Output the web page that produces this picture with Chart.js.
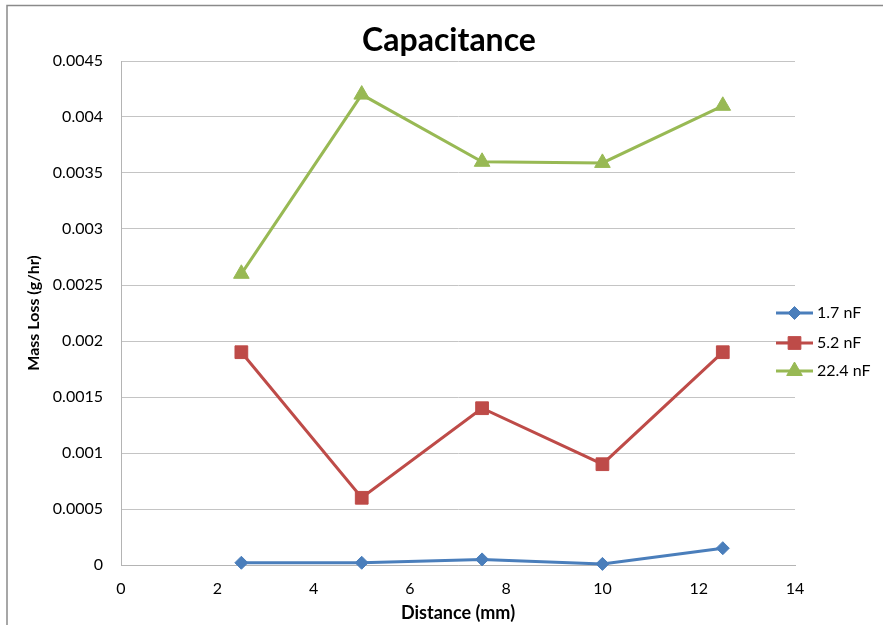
<!DOCTYPE html>
<html>
<head>
<meta charset="utf-8">
<script src="https://cdn.jsdelivr.net/npm/chart.js@4/dist/chart.umd.min.js"></script>
<style>
  html, body { margin: 0; padding: 0; background: #fff; }
  #wrap { width: 883px; height: 625px; position: relative; }
</style>
</head>
<body>
<div id="wrap"><canvas id="c" width="883" height="625"></canvas></div>
<script>
// Distance between electrodes (mm) and measured mass loss (g/hr) per capacitance
const distances = [2.5, 5, 7.5, 10, 12.5];
const loss1_7nF = [0.00002, 0.00002, 0.00005, 0.00001, 0.00015];
const loss5_2nF = [0.0019, 0.0006, 0.0014, 0.0009, 0.0019];
const loss22_4nF = [0.0026, 0.0042, 0.0036, 0.00359, 0.0041];
const seriesNames = ['1.7 nF', '5.2 nF', '22.4 nF'];

const xTicks = [0, 2, 4, 6, 8, 10, 12, 14];
const yTicks = [0, 0.0005, 0.001, 0.0015, 0.002, 0.0025, 0.003, 0.0035, 0.004, 0.0045];
const yTickLabels = ['0', '0.0005', '0.001', '0.0015', '0.002', '0.0025', '0.003', '0.0035', '0.004', '0.0045'];

const FONT = 'Lato';

function toPoints(values) {
  return distances.map((d, i) => ({ x: d, y: values[i] }));
}

// Outer frame of the chart object
const framePlugin = {
  id: 'frame',
  beforeDraw(chart) {
    const ctx = chart.ctx;
    ctx.save();
    ctx.fillStyle = '#ffffff';
    ctx.fillRect(0, 0, chart.width, chart.height);
    ctx.strokeStyle = '#8a8a8a';
    ctx.lineWidth = 1.5;
    ctx.beginPath();
    ctx.moveTo(7, chart.height);
    ctx.lineTo(7, 5.5);
    ctx.lineTo(chart.width, 5.5);
    ctx.stroke();
    ctx.restore();
  }
};

function drawMarker(ctx, style, r, x, y) {
  ctx.beginPath();
  if (style === 'rect') {
    const s = Math.SQRT1_2 * r;
    ctx.rect(x - s, y - s, 2 * s, 2 * s);
  } else if (style === 'rectRot') {
    ctx.moveTo(x, y - r);
    ctx.lineTo(x + r, y);
    ctx.lineTo(x, y + r);
    ctx.lineTo(x - r, y);
    ctx.closePath();
  } else {
    // triangle, same geometry as Chart.js
    let rad = 0;
    ctx.moveTo(x + Math.sin(rad) * r, y - Math.cos(rad) * r);
    rad += 2 * Math.PI / 3;
    ctx.lineTo(x + Math.sin(rad) * r, y - Math.cos(rad) * r);
    rad += 2 * Math.PI / 3;
    ctx.lineTo(x + Math.sin(rad) * r, y - Math.cos(rad) * r);
    ctx.closePath();
  }
  ctx.fill();
  ctx.stroke();
}

// Chart title and a legend showing line + marker samples
const titleLegendPlugin = {
  id: 'titleLegend',
  afterDraw(chart) {
    const ctx = chart.ctx;
    ctx.save();
    ctx.fillStyle = '#000';
    ctx.font = `bold 32px ${FONT}`;
    ctx.textAlign = 'center';
    ctx.textBaseline = 'middle';
    ctx.fillText('Capacitance', 449, 41);

    const rows = [313, 343, 371];
    chart.data.datasets.forEach((ds, i) => {
      const y = rows[i];
      ctx.strokeStyle = ds.borderColor;
      ctx.lineWidth = ds.borderWidth;
      ctx.beginPath();
      ctx.moveTo(776, y);
      ctx.lineTo(813, y);
      ctx.stroke();
      ctx.fillStyle = ds.pointBackgroundColor;
      ctx.strokeStyle = ds.pointBorderColor;
      ctx.lineWidth = 1;
      drawMarker(ctx, ds.pointStyle, ds.pointRadius, 794.5, y);
      ctx.fillStyle = '#000';
      ctx.font = `16px ${FONT}`;
      ctx.textAlign = 'left';
      ctx.fillText(ds.label, 817, y);
    });
    ctx.restore();
  }
};

function series(label, values, color, style, radius) {
  return {
    label,
    data: toPoints(values),
    borderColor: color,
    backgroundColor: color,
    pointBackgroundColor: color,
    pointBorderColor: color,
    borderWidth: 3,
    pointStyle: style,
    pointRadius: radius,
    pointHoverRadius: radius,
    pointBorderWidth: 1,
    tension: 0,
    clip: false
  };
}

new Chart(document.getElementById('c'), {
  type: 'line',
  data: {
    datasets: [
      series(seriesNames[0], loss1_7nF, '#4a7ebb', 'rectRot', 6.5),
      series(seriesNames[1], loss5_2nF, '#be4b48', 'rect', 9),
      series(seriesNames[2], loss22_4nF, '#98b954', 'triangle', 9)
    ]
  },
  options: {
    responsive: false,
    animation: false,
    devicePixelRatio: 1,
    layout: { padding: { left: 0, right: 88, top: 61, bottom: 0 } },
    plugins: {
      legend: { display: false },
      title: { display: false },
      tooltip: { enabled: false }
    },
    scales: {
      x: {
        type: 'linear',
        min: 0,
        max: 14,
        afterBuildTicks: s => { s.ticks = xTicks.map(v => ({ value: v })); },
        afterFit: s => { s.height = 60; },
        ticks: {
          font: { family: FONT, size: 16 },
          color: '#000',
          padding: 14,
          maxRotation: 0,
          callback: v => String(v)
        },
        grid: { display: false, drawTicks: false },
        border: { display: true, color: '#b4b4b4', width: 1 },
        title: {
          display: true,
          text: 'Distance (mm)',
          color: '#000',
          font: { family: FONT, size: 18, weight: 'bold' },
          padding: { top: 0, bottom: 1 }
        }
      },
      y: {
        type: 'linear',
        min: 0,
        max: 0.0045,
        afterBuildTicks: s => { s.ticks = yTicks.map(v => ({ value: v })); },
        afterFit: s => { s.width = 121; },
        ticks: {
          font: { family: FONT, size: 16 },
          color: '#000',
          padding: 18,
          callback: (v, i) => yTickLabels[i]
        },
        grid: { color: '#c4c4c4', lineWidth: 1, drawTicks: false },
        border: { display: true, color: '#b4b4b4', width: 1 },
        title: {
          display: true,
          text: 'Mass Loss (g/hr)',
          color: '#000',
          font: { family: FONT, size: 16, weight: 'bold' },
          padding: { top: 24, bottom: 0 }
        }
      }
    }
  },
  plugins: [framePlugin, titleLegendPlugin]
});
</script>
</body>
</html>
